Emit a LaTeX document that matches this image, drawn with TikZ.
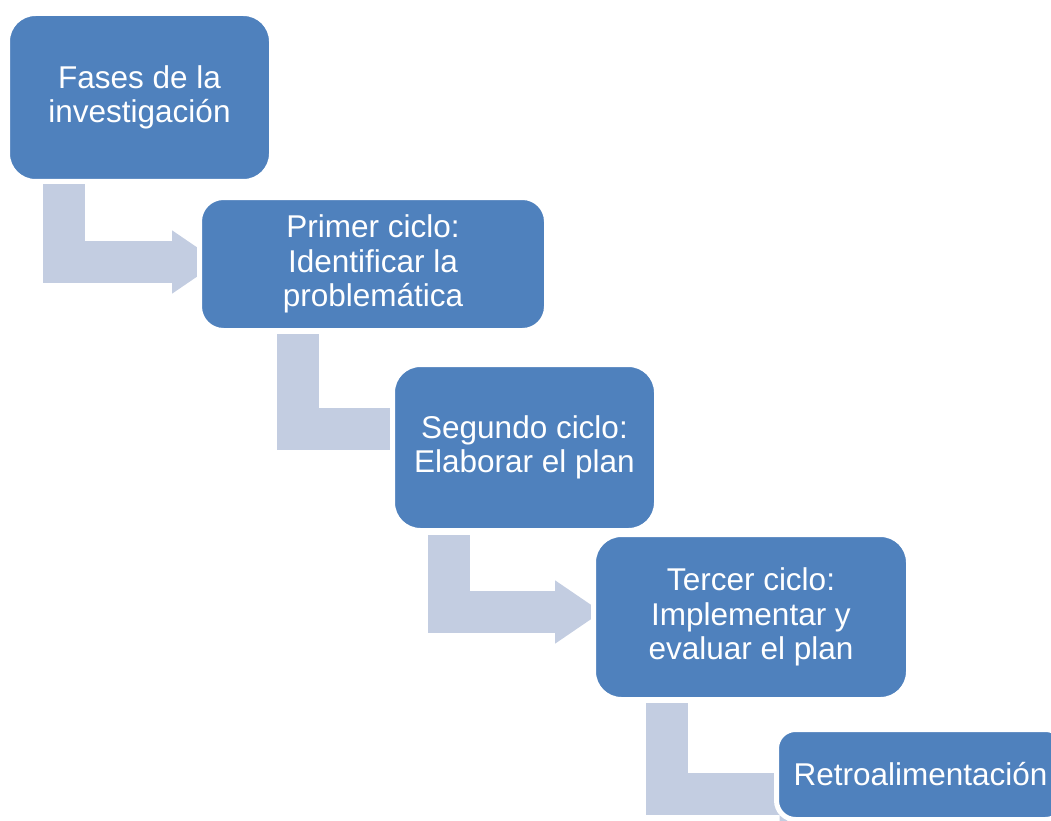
\documentclass[tikz,border=0pt]{standalone}
\usepackage{fontspec}
\setmainfont{Liberation Sans}
\usetikzlibrary{positioning,arrows.meta,backgrounds}

\definecolor{fasebox}{HTML}{4F81BD}
\definecolor{faseline}{HTML}{C3CDE1}

\begin{document}
\begin{tikzpicture}[
  x=1pt, y=1pt,
  fase/.style={draw=white, line width=5pt, fill=fasebox, text=white,
    align=center, inner sep=0pt, outer sep=0pt,
    font=\fontsize{31.5}{34.5}\selectfont},
  stepline/.style={draw=faseline, line width=42pt, line join=miter,
    -{Triangle[length=47pt,width=60pt]}}
]

\useasboundingbox (0,0) rectangle (1051,-821);

\node[fase, minimum width=264pt, minimum height=168pt, rounded corners=28pt]
  (fase0) at (139.5,-97.5) {Fases de la\\investigación};
\node[fase, minimum width=347pt, minimum height=133pt, rounded corners=24pt]
  (fase1) at (373,-264) {Primer ciclo:\\Identificar la\\problemática};
\node[fase, minimum width=264pt, minimum height=166pt, rounded corners=28pt]
  (fase2) at (524.5,-447.5) {Segundo ciclo:\\Elaborar el plan};
\node[fase, minimum width=315pt, minimum height=165pt, rounded corners=28pt]
  (fase3) at (751,-617) {Tercer ciclo:\\Implementar y\\evaluar el plan};
\node[fase, minimum width=288pt, minimum height=90pt, rounded corners=19pt]
  (fase4) at (920.5,-774.5) {Retroalimentación};

% bent arrows behind the boxes
\begin{scope}[on background layer]
\draw[stepline] ([xshift=56.5pt,yshift=-2.5pt]fase0.south west) |- ([xshift=19.5pt,yshift=2pt]fase1.west);
\draw[stepline] ([xshift=98.5pt,yshift=-3.5pt]fase1.south west) |- ([xshift=50pt,yshift=18.5pt]fase2.west);
\draw[stepline] ([xshift=56.5pt,yshift=-4.5pt]fase2.south west) |- ([xshift=8.5pt,yshift=5pt]fase3.west);
\draw[stepline] ([xshift=73.5pt,yshift=-3.5pt]fase3.south west) |- ([xshift=50pt,yshift=-19.5pt]fase4.west);
\end{scope}

\end{tikzpicture}
\end{document}
